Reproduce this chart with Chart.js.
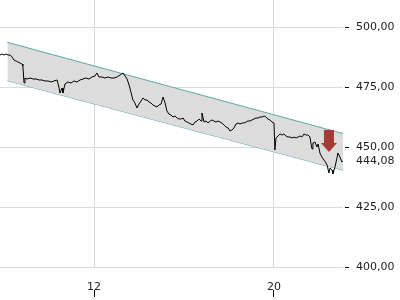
<!DOCTYPE html>
<html>
<head>
<meta charset="utf-8">
<script src="https://cdn.jsdelivr.net/npm/chart.js@4"></script>
<style>
  body { margin: 0; background: #fff; }
  canvas { display: block; }
</style>
</head>
<body>
<canvas id="chart" width="400" height="300"></canvas>
<script>
// price series (day of month, price)
const days = [
  7.82, 7.91, 8.00, 8.09, 8.18, 8.27, 8.36, 8.44, 8.53, 8.62,
  8.71, 8.80, 8.84, 8.89, 8.93, 9.02, 9.16, 9.29, 9.42, 9.56,
  9.69, 9.82, 9.96, 10.09, 10.22, 10.36, 10.44, 10.49, 10.58, 10.62,
  10.71, 10.84, 10.98, 11.11, 11.24, 11.38, 11.51, 11.64, 11.78, 11.91,
  12.04, 12.13, 12.22, 12.36, 12.49, 12.62, 12.76, 12.89, 13.02, 13.16,
  13.29, 13.38, 13.47, 13.56, 13.64, 13.73, 13.82, 13.91, 14.00, 14.09,
  14.18, 14.27, 14.36, 14.44, 14.53, 14.62, 14.71, 14.80, 14.89, 14.98,
  15.07, 15.16, 15.24, 15.33, 15.42, 15.51, 15.60, 15.69, 15.78, 15.87,
  15.96, 16.04, 16.13, 16.22, 16.31, 16.40, 16.49, 16.58, 16.67, 16.76,
  16.80, 16.89, 16.98, 17.07, 17.16, 17.24, 17.33, 17.42, 17.51, 17.60,
  17.69, 17.78, 17.87, 17.96, 18.04, 18.13, 18.22, 18.31, 18.40, 18.49,
  18.58, 18.67, 18.76, 18.84, 18.93, 19.02, 19.11, 19.20, 19.29, 19.38,
  19.47, 19.56, 19.64, 19.73, 19.82, 19.91, 20.00, 20.04, 20.09, 20.18,
  20.27, 20.36, 20.44, 20.53, 20.62, 20.71, 20.80, 20.89, 20.98, 21.07,
  21.16, 21.24, 21.33, 21.42, 21.51, 21.60, 21.64, 21.69, 21.73, 21.82,
  21.91, 21.96, 22.04, 22.13, 22.22, 22.31, 22.36, 22.44, 22.49, 22.58,
  22.62, 22.71, 22.80, 22.84, 22.93, 23.02, 23.06
]
const prices = [
  488.33, 488.75, 488.33, 488.75, 488.33, 488.33, 487.5, 486.25, 485.83, 485.42,
  485.0, 484.58, 483.75, 476.67, 478.75, 478.33, 478.75, 478.33, 478.33, 477.92,
  477.92, 477.5, 477.5, 477.08, 477.5, 477.92, 475.0, 472.5, 474.58, 472.5,
  476.25, 477.08, 476.67, 477.5, 477.08, 477.92, 478.33, 478.75, 478.33, 479.17,
  479.58, 480.83, 479.17, 479.17, 478.75, 479.17, 478.75, 478.75, 479.17, 480.0,
  480.83, 479.58, 478.33, 475.83, 472.92, 469.58, 468.33, 466.25, 467.92, 469.17,
  470.42, 469.58, 469.58, 468.75, 468.33, 467.5, 467.08, 466.67, 467.5, 467.92,
  470.83, 468.33, 465.0, 463.75, 463.33, 462.5, 462.92, 462.08, 461.67, 461.67,
  462.08, 460.83, 460.42, 460.0, 459.58, 459.17, 460.42, 460.83, 461.67, 460.83,
  464.17, 460.42, 460.83, 460.0, 460.83, 461.25, 460.83, 460.42, 460.83, 460.42,
  460.0, 459.17, 458.33, 457.92, 456.67, 457.08, 457.92, 459.58, 460.0, 459.58,
  460.0, 460.0, 460.42, 460.83, 460.83, 461.25, 461.67, 462.08, 462.08, 462.5,
  462.5, 462.92, 462.5, 461.67, 461.25, 460.42, 460.0, 448.75, 453.75, 454.58,
  455.42, 455.0, 455.42, 454.58, 454.17, 454.17, 453.75, 454.17, 453.75, 454.17,
  454.58, 454.17, 455.42, 455.0, 455.0, 454.17, 451.67, 449.17, 451.67, 452.08,
  450.0, 451.25, 447.5, 445.83, 444.58, 443.33, 442.5, 439.17, 441.25, 440.42,
  438.75, 441.67, 445.42, 447.5, 445.83, 443.75, 444.08
]

// trend channel end points
const channelDays = [8.15, 23.07]
const channelUpper = [493.6, 455.6]
const channelLower = [477.6, 440.3]

// sell signal marker
const signalDay = [22.44]
const signalPrice = [452.5]

const lastPrice = 444.08
const yTicks = [400, 425, 444.08, 450, 475, 500]
const xTicks = [12, 20]

const pts = (xs, ys) => xs.map((x, i) => ({ x: x, y: ys[i] }))

// red down arrow used as point style
const arrow = document.createElement('canvas')
arrow.width = 16
arrow.height = 22
const actx = arrow.getContext('2d')
actx.fillStyle = '#a53a35'
actx.fillRect(3, 0, 10, 13)
actx.beginPath()
actx.moveTo(0, 13)
actx.lineTo(16, 13)
actx.lineTo(8, 22)
actx.closePath()
actx.fill()

const fmt = v => v.toFixed(2).replace('.', ',')

new Chart(document.getElementById('chart'), {
  type: 'line',
  data: {
    datasets: [
      {
        data: pts(signalDay, signalPrice),
        showLine: false,
        pointStyle: arrow,
        pointRadius: 10,
        order: 0
      },
      {
        data: pts(days, prices),
        borderColor: '#000',
        borderWidth: 1,
        pointRadius: 0,
        tension: 0,
        fill: false,
        order: 1
      },
      {
        data: pts(channelDays, channelUpper),
        borderColor: '#5ea7ab',
        borderWidth: 1,
        pointRadius: 0,
        backgroundColor: '#dcdcdc',
        fill: '+1',
        order: 2
      },
      {
        data: pts(channelDays, channelLower),
        borderColor: '#5ea7ab',
        borderWidth: 1,
        pointRadius: 0,
        fill: false,
        order: 3
      }
    ]
  },
  options: {
    responsive: false,
    animation: false,
    devicePixelRatio: 1,
    layout: { padding: 0, autoPadding: false },
    plugins: {
      legend: { display: false },
      tooltip: { enabled: false }
    },
    scales: {
      x: {
        type: 'linear',
        min: 7.8222,
        max: 23.0667,
        afterBuildTicks: s => { s.ticks = xTicks.map(v => ({ value: v })) },
        afterFit: s => {
          s.height = 33
          s.paddingLeft = 0
          s.paddingRight = 0
        },
        border: { display: false },
        grid: {
          color: '#dadada',
          tickColor: '#000',
          tickLength: 30,
          tickBorderDash: [7, 23],
          tickBorderDashOffset: 7
        },
        ticks: {
          autoSkip: false,
          maxRotation: 0,
          padding: -16.6,
          color: '#222',
          font: { family: 'DejaVu Sans', size: 11 }
        }
      },
      y: {
        position: 'right',
        min: 400,
        max: 511.25,
        afterBuildTicks: s => { s.ticks = yTicks.map(v => ({ value: v })) },
        afterFit: s => {
          s.width = 57
          s.paddingTop = 0
          s.paddingBottom = 0
        },
        border: { display: false },
        grid: {
          color: c => c.tick && c.tick.value === lastPrice ? 'transparent' : '#dadada',
          tickColor: c => c.tick && c.tick.value === lastPrice ? 'transparent' : '#000',
          tickLength: 6,
          tickBorderDash: [4, 2],
          tickBorderDashOffset: 4
        },
        ticks: {
          autoSkip: false,
          padding: 7,
          color: '#222',
          font: { family: 'DejaVu Sans', size: 11 },
          callback: v => fmt(v)
        }
      }
    }
  }
})
</script>
</body>
</html>
